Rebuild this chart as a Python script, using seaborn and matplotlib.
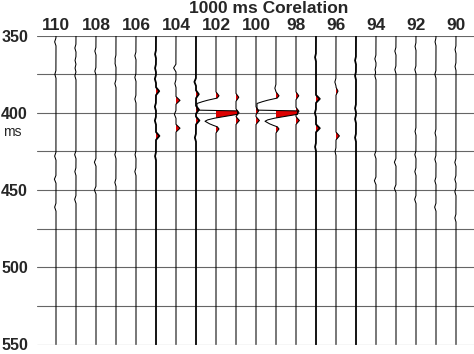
import numpy as np
import pandas as pd
import matplotlib
matplotlib.use("Agg")
import matplotlib.pyplot as plt
import seaborn as sns

# ---------------- data ----------------
trace_ids = list(range(110, 89, -1))          # 110 ... 90
x_tick_labels = list(range(110, 89, -2))      # 110, 108, ... 90
y_tick_labels = [350, 400, 450, 500, 550]
grid_times = [350, 375, 400, 425, 450, 475, 500, 525, 550]
thick_traces = [105, 103, 97, 95]

# small events: trace, time (ms), amplitude (trace spacings), half width (ms)
ev_trace = [110, 110, 110, 110, 110,
            109, 109, 109, 109, 109, 109, 109,
            108, 108, 108, 108,
            107, 107, 107, 107, 107,
            106, 106, 106, 106, 106,
            105, 105, 105, 105, 105, 105, 105, 105,
            104, 104, 104, 104, 104,
            103, 103, 103, 103, 103,
            102, 102,
            101, 101, 101,
            100, 100,
            99, 99, 99,
            98, 98, 98,
            97, 97, 97, 97, 97,
            96, 96, 96, 96,
            95, 95, 95, 95, 95,
            94, 94, 94, 94, 94,
            93, 93, 93, 93,
            92, 92, 92, 92, 92, 92,
            91, 91, 91, 91, 91, 91,
            90, 90, 90, 90, 90, 90]
ev_time = [354, 375, 428, 443, 461,
           358, 366, 371, 376, 427, 438, 456,
           360, 373, 432, 450,
           365, 368, 381, 427, 445,
           363, 377, 391, 427, 438,
           362, 371, 378, 386, 396, 405, 415, 428,
           371, 381, 392, 401, 410,
           380, 388, 398, 405, 416,
           389, 410.5,
           390, 400, 405,
           398.7, 405,
           384, 389, 410.5,
           389, 399, 405,
           364, 391, 400, 410, 422,
           380, 386, 415, 425,
           366, 376, 397, 404, 416,
           365, 372, 376, 427, 444,
           360, 372, 432, 449,
           357, 372, 412, 427, 438, 456,
           354, 375, 413, 430, 444, 461,
           359, 370, 432, 443, 451, 468]
ev_amp = [-0.07, -0.06, -0.07, -0.08, -0.07,
          -0.06, -0.05, -0.05, -0.06, -0.07, -0.06, -0.07,
          -0.06, -0.06, -0.08, -0.08,
          -0.05, -0.05, -0.06, -0.06, -0.06,
          -0.06, -0.06, -0.06, -0.05, -0.06,
          -0.05, -0.05, -0.06, 0.16, -0.06, -0.06, 0.17, -0.05,
          -0.12, -0.06, 0.2, -0.08, 0.2,
          -0.08, 0.14, 0.15, 0.17, -0.06,
          0.15, 0.15,
          0.14, 0.15, 0.17,
          0.14, 0.17,
          -0.06, 0.15, 0.15,
          0.14, 0.15, 0.17,
          -0.05, 0.19, -0.06, 0.19, -0.05,
          -0.06, 0.1, 0.17, -0.05,
          -0.05, -0.05, -0.05, -0.05, -0.05,
          -0.06, -0.05, -0.06, -0.07, -0.08,
          -0.06, -0.06, -0.08, -0.08,
          -0.05, -0.06, -0.05, -0.06, -0.06, -0.07,
          -0.05, -0.06, -0.05, -0.06, -0.06, -0.07,
          -0.05, -0.05, -0.06, -0.06, -0.06, -0.06]
ev_halfwidth = [2.5] * len(ev_time)

# main correlation wavelet (knots) on traces 102 and 99
wavelet_traces = [102, 99]
wavelet_t = [390.5, 392.5, 394.0, 398.3, 398.8, 401.0, 403.3, 404.5, 405.5, 407.0, 409.0]
wavelet_a = [0.0, -0.6, -0.95, -0.95, 1.08, 1.08, 0.0, -0.4, -0.55, -0.35, 0.0]

# ---------------- build traces ----------------
t = np.arange(350, 550.01, 0.1)
rows = []
for tr in trace_ids:
    amp = np.zeros_like(t)
    for etr, et, ea, ew in zip(ev_trace, ev_time, ev_amp, ev_halfwidth):
        if etr == tr:
            amp += np.interp(t, [et - ew, et, et + ew], [0, ea, 0], left=0, right=0)
    if tr in wavelet_traces:
        amp += np.interp(t, wavelet_t, wavelet_a, left=0, right=0)
    rows.append(pd.DataFrame({"trace": tr, "time": t, "amp": amp, "x": tr - amp}))
df = pd.concat(rows, ignore_index=True)

# ---------------- plot ----------------
sns.set_theme(style="white")
plt.rcParams["font.family"] = ["Liberation Sans", "DejaVu Sans"]

fig = plt.figure(figsize=(4.74, 3.54), dpi=100)
ax = fig.add_axes([37 / 474, 1 - 344.5 / 354, 1 - 37 / 474, (344.5 - 35.5) / 354])

for gt in grid_times:
    ax.axhline(gt, color="#666666", lw=0.8, zorder=1)

for tr in trace_ids:
    d = df[df["trace"] == tr]
    # x axis is reversed: positive amplitude drawn to the right -> smaller data value
    ax.fill_betweenx(d["time"], tr, d["x"], where=d["amp"] > 0, interpolate=True,
                     color="#dd0000", lw=0, zorder=2)
    sns.lineplot(data=d, x="x", y="time", orient="y", sort=False, estimator=None,
                 color="black", lw=1.3 if tr in thick_traces else 0.75, ax=ax, zorder=3)

ax.set_xlim(110.95, 89.1)
ax.set_ylim(550, 350)
ax.xaxis.tick_top()
ax.set_xticks(x_tick_labels)
ax.set_xticklabels([str(v) for v in x_tick_labels], fontsize=12.5, fontweight="bold")
ax.set_yticks(y_tick_labels)
ax.set_yticklabels([str(v) for v in y_tick_labels], fontsize=11.5, fontweight="bold")
ax.tick_params(axis="x", length=0, pad=1.5)
ax.tick_params(axis="y", length=0, pad=6.5)
ax.set_xlabel("")
ax.set_ylabel("")
for s in ax.spines.values():
    s.set_visible(False)

fig.text(269 / 474, 1 - 8.5 / 354, "1000 ms Corelation", ha="center", va="center",
         fontsize=12.5, fontweight="bold")
fig.text(3 / 474, 1 - 132 / 354, "ms", ha="left", va="center", fontsize=10)

fig.savefig("out.png", dpi=100)
